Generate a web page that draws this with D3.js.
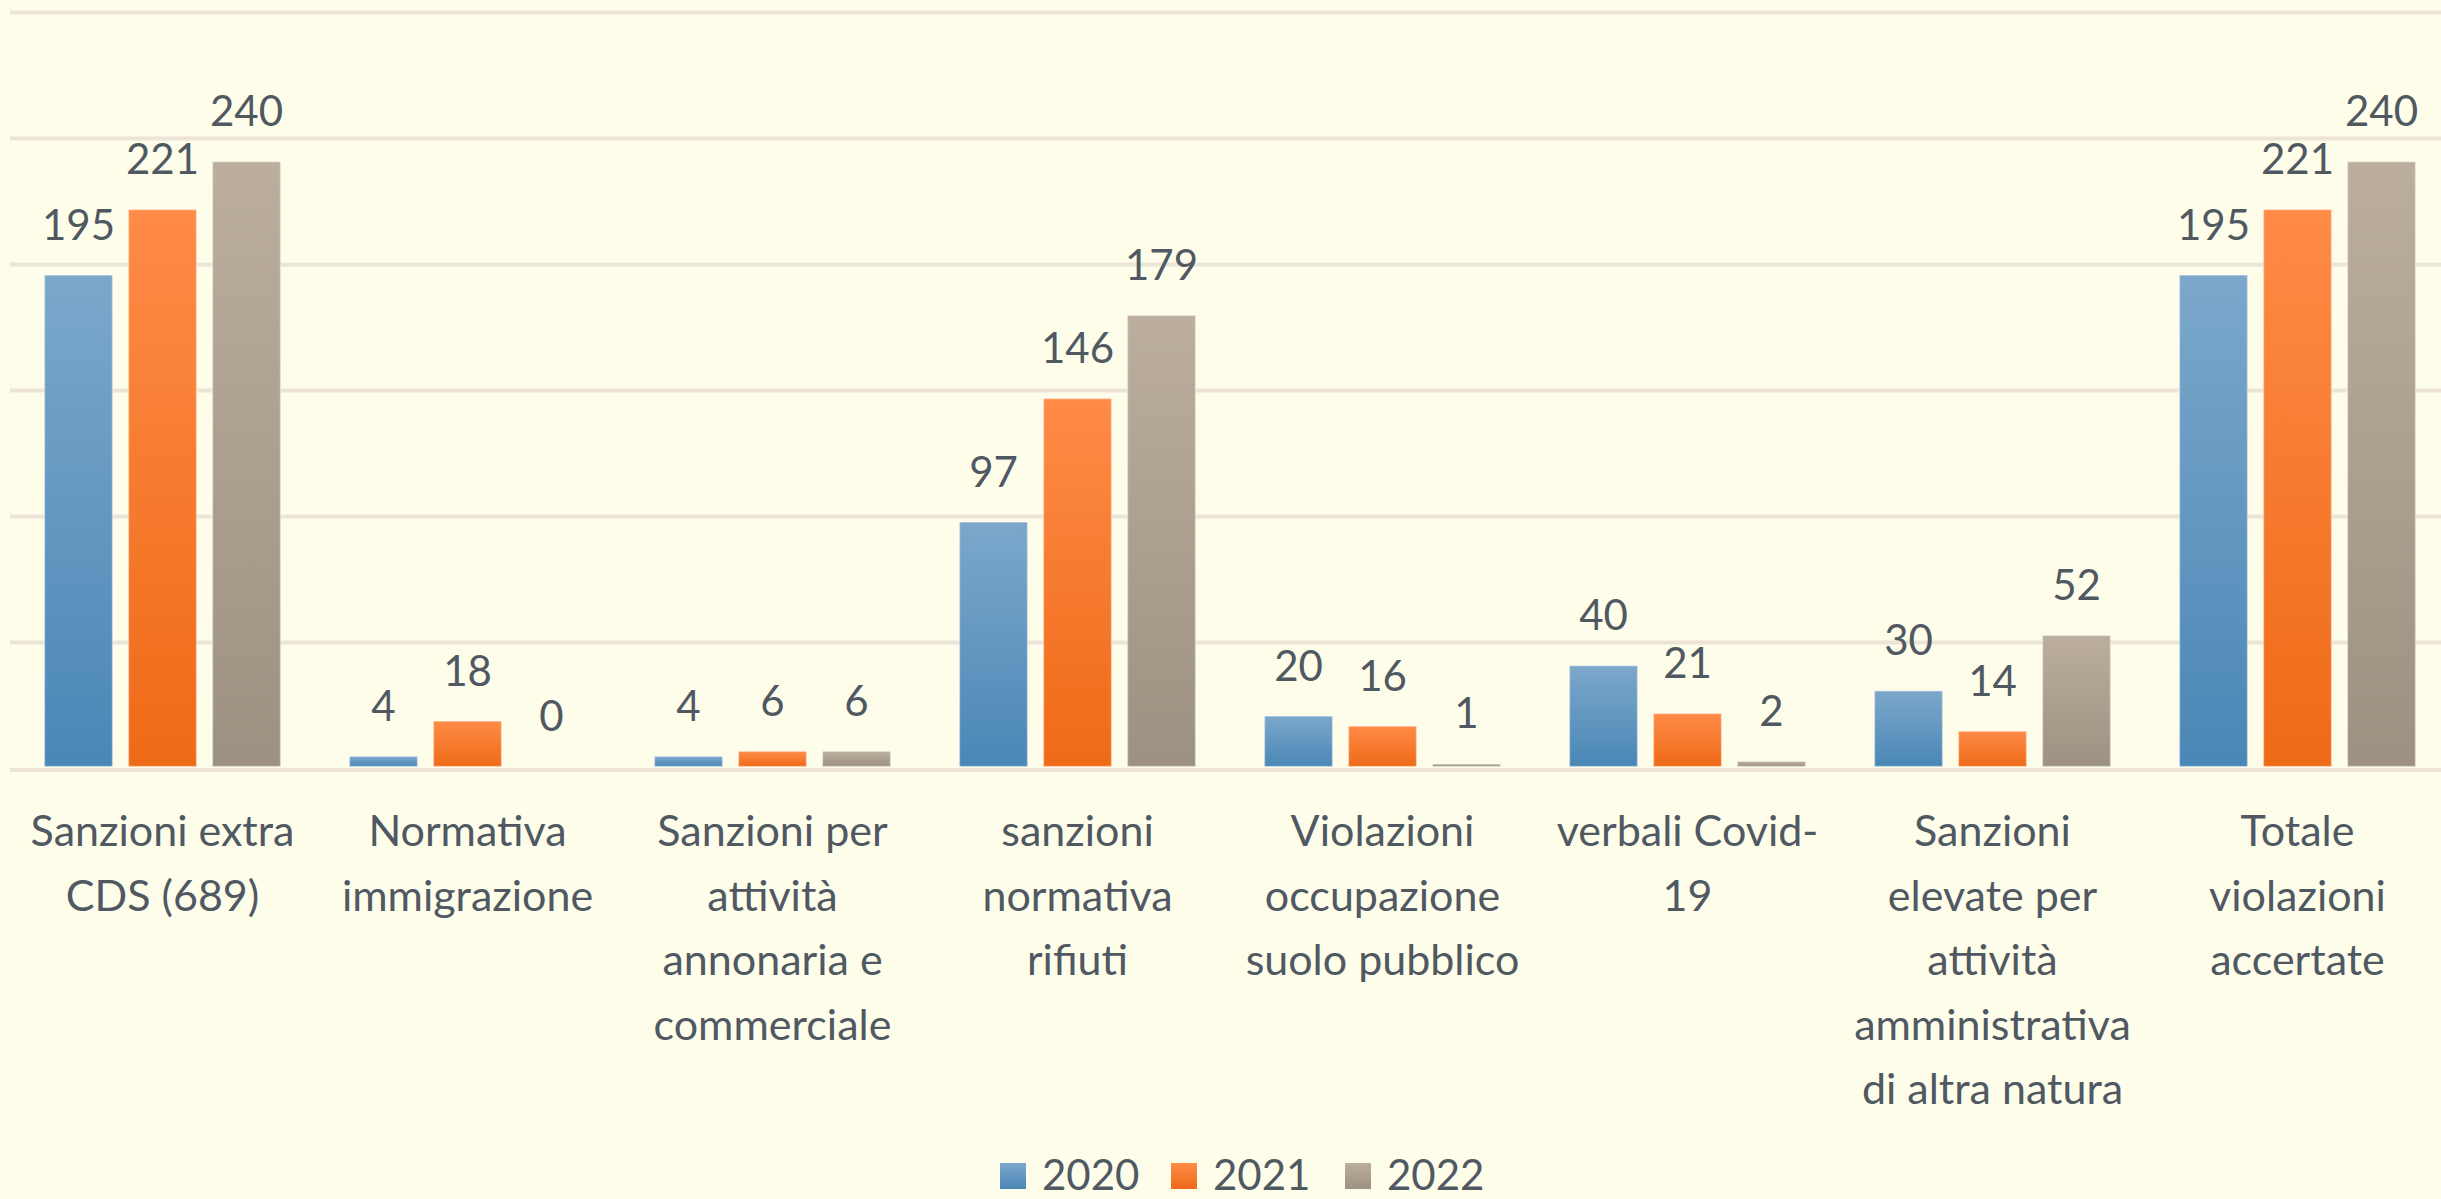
<!DOCTYPE html>
<html>
<head>
<meta charset="utf-8">
<script src="https://cdn.jsdelivr.net/npm/d3@7"></script>
<style>
  html, body { margin: 0; padding: 0; background: #fefdea; overflow: hidden; }
  svg { display: block; }
</style>
</head>
<body>
<div id="chart"></div>
<script>
const categories = [
  ['Sanzioni extra', 'CDS (689)'],
  ['Normativa', 'immigrazione'],
  ['Sanzioni per', 'attività', 'annonaria e', 'commerciale'],
  ['sanzioni', 'normativa', 'rifiuti'],
  ['Violazioni', 'occupazione', 'suolo pubblico'],
  ['verbali Covid-', '19'],
  ['Sanzioni', 'elevate per', 'attività', 'amministrativa', 'di altra natura'],
  ['Totale', 'violazioni', 'accertate'],
];
const years = ['2020', '2021', '2022'];
const values2020 = [195, 4, 4, 97, 20, 40, 30, 195];
const values2021 = [221, 18, 6, 146, 16, 21, 14, 221];
const values2022 = [240, 0, 6, 179, 1, 2, 52, 240];
const yTicks = [0, 50, 100, 150, 200, 250, 300];

const width = 2441;
const height = 1199;
const font = 'Lato, "Open Sans", sans-serif';
const textColor = '#505862';

const colors = {
  2020: ['#7ca7cb', '#4a87b6'],
  2021: ['#ff8b47', '#ee6a17'],
  2022: ['#bbae9d', '#9d9181'],
};

const series = [values2020, values2021, values2022];
const rows = categories.map((c, i) => ({
  key: i,
  lines: c,
  vals: years.map((yr, j) => ({ year: yr, value: series[j][i] })),
}));

const svg = d3.select('#chart')
  .append('svg')
  .attr('width', width)
  .attr('height', height);

svg.append('rect')
  .attr('width', width)
  .attr('height', height)
  .attr('fill', '#fefdea');

const defs = svg.append('defs');
years.forEach((yr) => {
  const g = defs.append('linearGradient')
    .attr('id', `grad${yr}`)
    .attr('x1', 0).attr('y1', 0)
    .attr('x2', 0).attr('y2', 1);
  g.append('stop').attr('offset', '0%').attr('stop-color', colors[yr][0]);
  g.append('stop').attr('offset', '100%').attr('stop-color', colors[yr][1]);
});

const x0 = d3.scaleBand()
  .domain(rows.map((d) => d.key))
  .range([10, 2450])
  .padding(0);

const x1 = d3.scaleBand()
  .domain(years)
  .range([-118, 118])
  .paddingInner(16 / 84)
  .paddingOuter(0);

const y = d3.scaleLinear()
  .domain([0, 300])
  .range([768, 12]);

// gridlines
const yAxis = d3.axisLeft(y)
  .tickValues(yTicks)
  .tickSize(-(2450 - 10))
  .tickFormat('');

svg.append('g')
  .attr('transform', 'translate(10 0)')
  .call(yAxis)
  .call((g) => g.select('.domain').remove())
  .call((g) => g.selectAll('.tick line')
    .attr('transform', (d) => (d === 0 ? 'translate(0 1.5)' : null))
    .attr('stroke', '#ece4d7')
    .attr('stroke-width', 4));

// bars
const groups = svg.append('g')
  .selectAll('g')
  .data(rows)
  .join('g')
  .attr('transform', (d) => `translate(${x0(d.key) + x0.bandwidth() / 2} 0)`);

groups.selectAll('rect')
  .data((d) => d.vals)
  .join('rect')
  .attr('x', (d) => x1(d.year))
  .attr('width', x1.bandwidth())
  .attr('y', (d) => y(d.value) - 1.5)
  .attr('height', (d) => y(0) - y(d.value))
  .attr('fill', (d) => `url(#grad${d.year})`)
  .attr('stroke', 'rgba(255,255,255,0.35)')
  .attr('stroke-width', 1.5);

groups.selectAll('text')
  .data((d) => d.vals)
  .join('text')
  .attr('x', (d) => x1(d.year) + x1.bandwidth() / 2)
  .attr('y', (d) => y(d.value) - 37)
  .attr('text-anchor', 'middle')
  .style('font-family', font)
  .style('font-size', '42px')
  .attr('fill', textColor)
  .text((d) => d.value);

// category labels
const xAxis = d3.axisBottom(x0).tickSize(0).tickFormat('');
const xg = svg.append('g')
  .attr('transform', `translate(0 ${y(0)})`)
  .call(xAxis)
  .call((g) => g.select('.domain').remove());

xg.selectAll('.tick')
  .append('text')
  .attr('text-anchor', 'middle')
  .style('font-family', font)
  .style('font-size', '43px')
  .attr('fill', textColor)
  .selectAll('tspan')
  .data((k) => rows[k].lines)
  .join('tspan')
  .attr('x', 0)
  .attr('y', (d, i) => 78 + i * 64.5)
  .text((d) => d);

// legend
const legend = svg.append('g')
  .attr('transform', 'translate(1000 1163)');

const items = legend.selectAll('g')
  .data(years)
  .join('g')
  .attr('transform', (d, i) => `translate(${[0, 171, 345][i]} 0)`);

items.append('rect')
  .attr('width', 26)
  .attr('height', 26)
  .attr('fill', (d) => `url(#grad${d})`);

items.append('text')
  .attr('x', 42)
  .attr('y', 27)
  .style('font-family', font)
  .style('font-size', '42px')
  .attr('fill', textColor)
  .text((d) => d);
</script>
</body>
</html>
